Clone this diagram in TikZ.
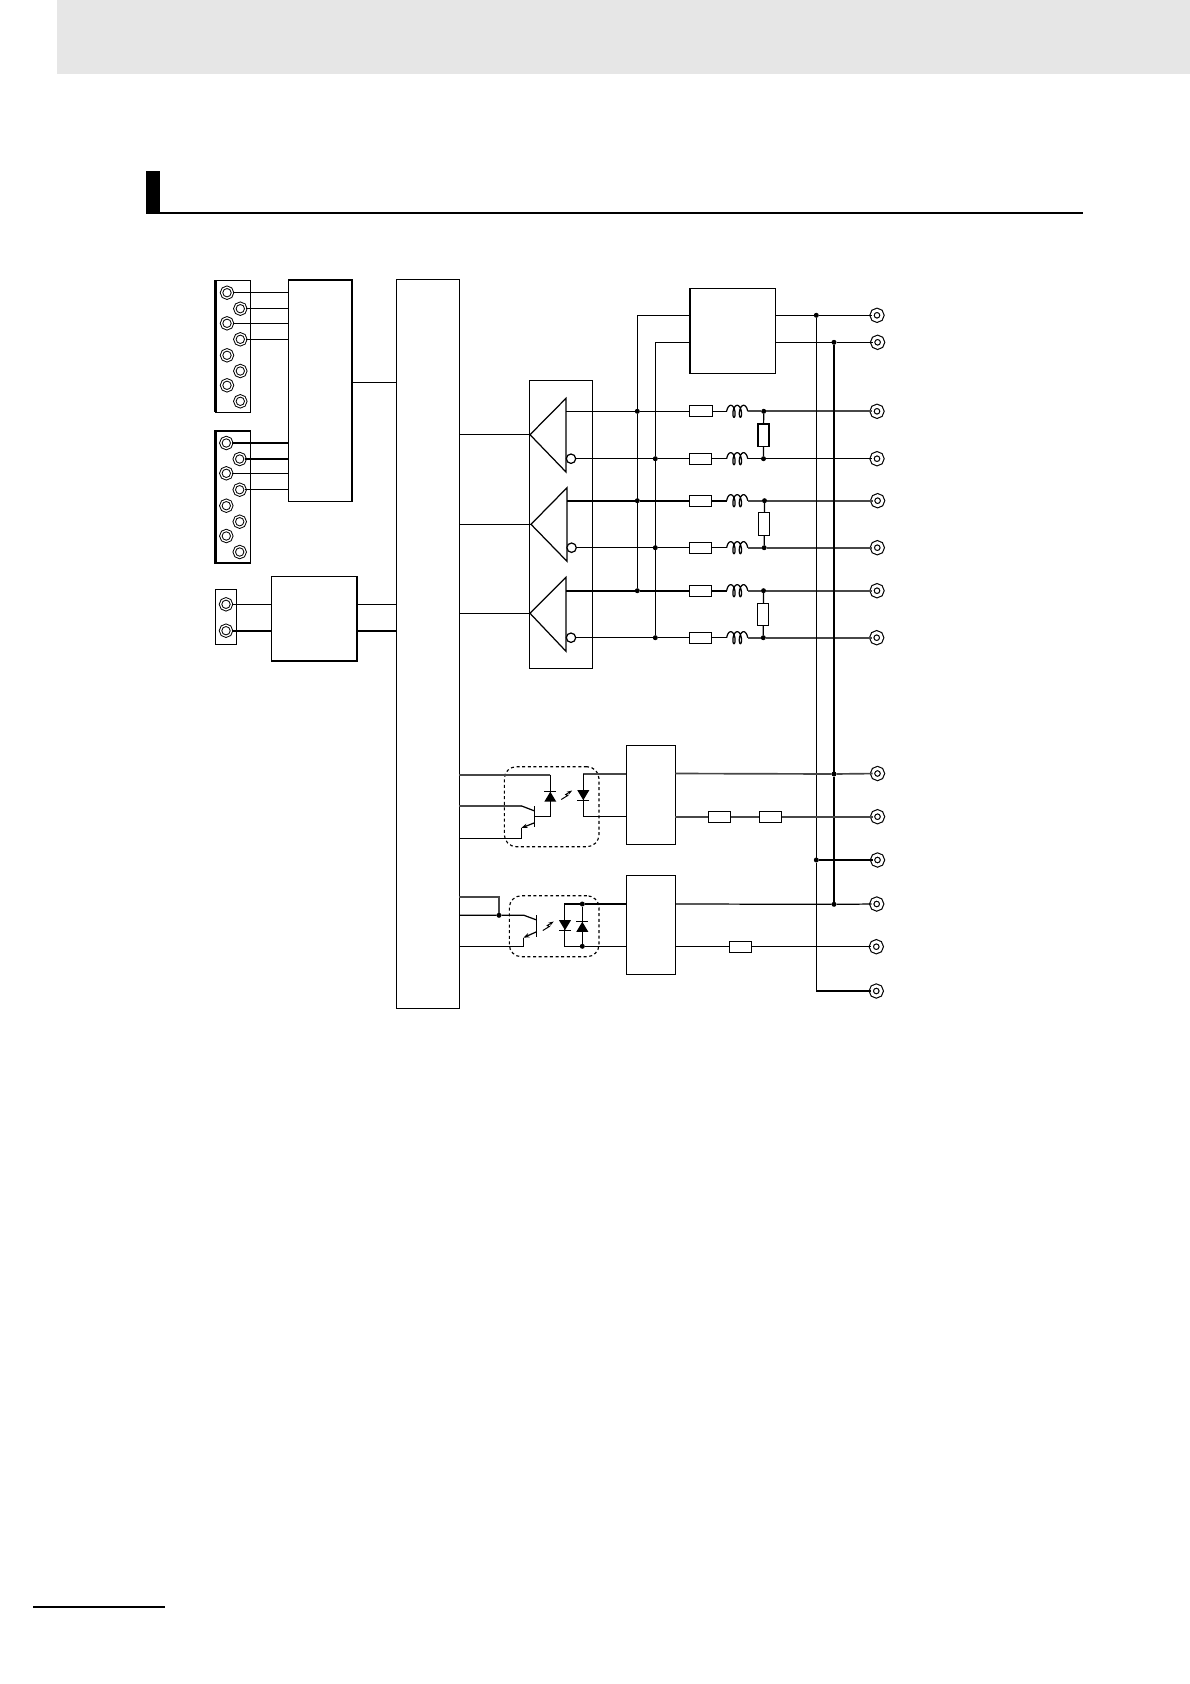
\documentclass[tikz,border=0pt]{standalone}
\usetikzlibrary{arrows.meta}

\definecolor{bandgrey}{HTML}{E6E6E6}

\tikzset{
    wire/.style={line width=0.7pt},
    heavywire/.style={line width=1.15pt},
    greywire/.style={line width=0.95pt,draw=black!72},
    blk/.style={shape=rectangle,draw,line width=0.7pt,fill=white,inner sep=0pt,outer sep=0pt},
    res/.style={blk,minimum width=0.446cm,minimum height=0.22cm},
    vres/.style={blk,minimum width=0.22cm,minimum height=0.446cm},
    coilspot/.style={shape=rectangle,inner sep=0pt,outer sep=0pt,minimum width=0.42cm,minimum height=0pt},
    lterm/.style={shape=circle,draw,line width=0.55pt,double,double distance=0.75pt,inner sep=0pt,outer sep=0pt,minimum size=0.22cm},
    oterm/.style={shape=circle,draw,line width=0.65pt,double,double distance=1.6pt,inner sep=0pt,outer sep=0pt,minimum size=0.2cm,fill=white},
    junc/.style={shape=circle,fill,inner sep=0pt,outer sep=0pt,minimum size=0.1cm},
    bubble/.style={shape=circle,draw,line width=0.7pt,fill=white,inner sep=0pt,outer sep=0pt,minimum size=0.188cm},
    dashbox/.style={shape=rectangle,draw,dashed,dash pattern=on 1.7pt off 1.5pt,line width=0.65pt,rounded corners=0.24cm,inner sep=0pt,outer sep=0pt},
    diode/.pic={
        \fill (-6,5) -- (6,5) -- (0,-5) -- cycle;
        \draw[wire] (-6,-5) -- (6,-5);
    },
    flash/.pic={
        \draw[line width=0.55pt,-{Stealth[length=3pt,width=2pt]}] (-5.5,4.5) -- (1,0.5) -- (-1,-0.5) -- (5.5,-4.5);
    },
    coil/.pic={
        \draw[wire] plot[domain=-90:810,samples=91,smooth] ({1.02*rad(\x-360)+2.5*sin(\x)},{-6*cos(\x)});
    },
}

\begin{document}
\begin{tikzpicture}[x=0.02cm,y=-0.02cm]
\useasboundingbox (0,0) rectangle (1190,1684);

% page furniture
\fill[bandgrey] (57,0) rectangle (1190,74);
\fill[black] (146,171) rectangle (160,214);
\fill[black] (146,211.7) rectangle (1083,214);
\fill[black] (32.7,1605.7) rectangle (165,1607.9);

% blocks
\node (strip1) at (233.1,346.3) [blk, minimum width=0.704cm, minimum height=2.64cm] {};
\node (strip2) at (233.1,497) [blk, minimum width=0.704cm, minimum height=2.64cm] {};
\node (strip3) at (226.1,616.8) [blk, minimum width=0.424cm, minimum height=1.1cm] {};
\node (blkA) at (320.3,390.7) [blk, minimum width=1.28cm, minimum height=4.426cm] {};
\node (blkB) at (314.35,618.65) [blk, minimum width=1.706cm, minimum height=1.694cm] {};
\node (mainblk) at (427.8,643.9) [blk, minimum width=1.26cm, minimum height=14.584cm] {};
\node (drvbox) at (560.8,524.3) [blk, minimum width=1.26cm, minimum height=5.76cm] {};
\node (blkC) at (732.5,330.8) [blk, minimum width=1.712cm, minimum height=1.7cm] {};
\node (blkD) at (650.8,794.8) [blk, minimum width=0.98cm, minimum height=1.98cm] {};
\node (blkE) at (650.8,924.8) [blk, minimum width=0.98cm, minimum height=1.98cm] {};

% heavier edges of the blocks
\draw[heavywire] (blkA.north west) -- (blkA.north east) -- (blkA.south east);
\draw[heavywire] (blkC.north west) -- (blkC.south west);
\draw[heavywire] (strip1.north west) -- (strip1.south west);
\draw[heavywire] (strip2.south east) -- (strip2.south west) -- (strip2.north west) -- (strip2.north east);

% left terminals
\begin{scope}[every node/.style={lterm}]
    \node (ta1) at (227,292.7) {};
    \node (ta2) at (240.3,308.7) {};
    \node (ta3) at (227,323.3) {};
    \node (ta4) at (240.3,339.3) {};
    \node (ta5) at (227,355.3) {};
    \node (ta6) at (240.3,371) {};
    \node (ta7) at (227,385.3) {};
    \node (ta8) at (240.3,401.3) {};

    \node (tb1) at (226.3,443) {};
    \node (tb2) at (239.7,459) {};
    \node (tb3) at (226.3,473.3) {};
    \node (tb4) at (239.7,489.7) {};
    \node (tb5) at (226.3,505.7) {};
    \node (tb6) at (239.7,521.7) {};
    \node (tb7) at (226.3,536) {};
    \node (tb8) at (239.7,552) {};

    \node (tc1) at (226,604.3) {};
    \node (tc2) at (226,630.7) {};
\end{scope}

\begin{scope}[wire]
    \draw (ta1) -- (ta1 -| blkA.west);
    \draw (ta2) -- (ta2 -| blkA.west);
    \draw (ta3) -- (ta3 -| blkA.west);
    \draw (ta4) -- (ta4 -| blkA.west);
    \draw[heavywire] (tb1) -- (tb1 -| blkA.west);
    \draw (tb2) -- (tb2 -| blkA.west);
    \draw (tb3) -- (tb3 -| blkA.west);
    \draw (tb4) -- (tb4 -| blkA.west);
    \draw (tc1) -- (tc1 -| blkB.west);
    \draw[heavywire] (tc2) -- (tc2 -| blkB.west);
    \draw (blkB.east |- tc1) -- (mainblk.west |- tc1);
    \draw[heavywire] (blkB.east |- tc2) -- (mainblk.west |- tc2);
    \draw (blkA.east |- 0,382.3) -- (mainblk.west |- 0,382.3);
\end{scope}

% drivers
\coordinate (amp1) at (530,434.7);
\coordinate (amp2) at (531,524.3);
\coordinate (amp3) at (530,613.3);
\coordinate (amp1p) at (566,411.3);
\coordinate (amp2p) at (567,500.7);
\coordinate (amp3p) at (566,590.7);
\draw[wire] (amp1) -- (566,398.3) -- (566,472) -- cycle;
\draw[wire] (amp2) -- (567,487.7) -- (567,561.3) -- cycle;
\draw[wire] (amp3) -- (566,577.3) -- (566,651.3) -- cycle;
\node (inv1) at (571,458.7) [bubble] {};
\node (inv2) at (571.6,547.7) [bubble] {};
\node (inv3) at (571,637.7) [bubble] {};
\draw[wire] (mainblk.east |- amp1) -- (amp1);
\draw[wire] (mainblk.east |- amp2) -- (amp2);
\draw[wire] (mainblk.east |- amp3) -- (amp3);

% output rows
\node (r1) at (701,411.3) [res] {};
\node (r2) at (700.5,458.7) [res] {};
\node (r3) at (700.5,500.7) [res] {};
\node (r4) at (700.5,547.7) [res] {};
\node (r5) at (700.5,590.7) [res] {};
\node (r6) at (700.5,637.7) [res] {};

\node (l1) at (737.2,411.3) [coilspot] {};
\node (l2) at (737.2,458.7) [coilspot] {};
\node (l3) at (737.2,500.7) [coilspot] {};
\node (l4) at (737.2,547.7) [coilspot] {};
\node (l5) at (737.2,590.7) [coilspot] {};
\node (l6) at (737.2,637.7) [coilspot] {};

\node (rt1) at (763.5,435.2) [vres] {};
\node (rt2) at (764.3,524) [vres] {};
\node (rt3) at (763.3,614.3) [vres] {};

\begin{scope}[every node/.style={junc}]
    \node (ja1) at (637.3,411.3) {};
    \node (jb2) at (655.3,458.7) {};
    \node (ja3) at (637.3,500.7) {};
    \node (jb4) at (655.3,547.7) {};
    \node (ja5) at (637.3,590.7) {};
    \node (jb6) at (655.3,637.7) {};

    \node (jr1) at (763.7,411.3) {};
    \node (jr2) at (763.5,458.7) {};
    \node (jr3) at (764.5,500.7) {};
    \node (jr4) at (764.2,547.7) {};
    \node (jr5) at (763.5,590.7) {};
    \node (jr6) at (763.3,637.7) {};

    \node (jg1) at (816.3,315.3) {};
    \node (jg2) at (834,342.3) {};
    \node (jg3) at (834,774) {};
    \node (jg4) at (816.3,860) {};
    \node (jg5) at (834,904.3) {};
\end{scope}

\begin{scope}[every node/.style={oterm}]
    \node (oa1) at (877,315.3) {};
    \node (oa2) at (877.6,342.3) {};
    \node (o1) at (877,411.3) {};
    \node (o2) at (877,458.7) {};
    \node (o3) at (877.6,500.7) {};
    \node (o4) at (877.3,547.7) {};
    \node (o5) at (877,590.7) {};
    \node (o6) at (876.7,637.7) {};
    \node (o7) at (877.5,773.5) {};
    \node (o8) at (877.5,816.7) {};
    \node (o9) at (877.5,860) {};
    \node (o10) at (876.7,904) {};
    \node (o11) at (876.3,946.7) {};
    \node (o12) at (876.3,991) {};
\end{scope}

% rows from the drivers to the terminals
\draw[wire] (amp1p) -- (ja1) -- (r1);
\draw[wire] (inv1) -- (jb2) -- (r2);
\draw[heavywire] (amp2p) -- (ja3) -- (r3);
\draw[wire] (inv2) -- (jb4) -- (r4);
\draw[heavywire] (amp3p) -- (ja5) -- (r5);
\draw[wire] (inv3) -- (jb6) -- (r6);

\draw[wire] (r1) -- (l1.west);
\draw[wire] (r2) -- (l2.west);
\draw[heavywire] (r3) -- (l3.west);
\draw[wire] (r4) -- (l4.west);
\draw[heavywire] (r5) -- (l5.west);
\draw[wire] (r6) -- (l6.west);

\pic at (l1) {coil};
\pic at (l2) {coil};
\pic at (l3) {coil};
\pic at (l4) {coil};
\pic at (l5) {coil};
\pic at (l6) {coil};

\draw[greywire] (l1.east) -- (jr1) -- (o1);
\draw[wire] (l2.east) -- (jr2) -- (o2);
\draw[greywire] (l3.east) -- (jr3) -- (o3);
\draw[greywire] (l4.east) -- (jr4) -- (o4);
\draw[greywire] (l5.east) -- (jr5) -- (o5);
\draw[greywire] (l6.east) -- (jr6) -- (o6);

\draw[wire] (jr1) -- (rt1) -- (jr2);
\draw[wire] (jr3) -- (rt2) -- (jr4);
\draw[wire] (jr5) -- (rt3) -- (jr6);

% supply block and its rails
\draw[wire] (ja5) -- (ja1);
\draw[wire] (jb6) -- (jb2);
\draw[wire] (ja1) |- (blkC.west |- oa1);
\draw[wire] (jb2) |- (blkC.west |- oa2);
\draw[wire] (blkC.east |- oa1) -- (jg1) -- (oa1);
\draw[wire] (blkC.east |- oa2) -- (jg2) -- (oa2);
\draw[wire] (jg1) -- (jg4);
\draw[wire] (jg2) -- (jg3) -- (jg5);
\draw[wire] (jg4) |- (o12);
\draw[wire] (jg4) -- (o9);

% first coupler
\node (isoD) at (551.65,806.7) [dashbox, minimum width=1.893cm, minimum height=1.6cm] {};
\coordinate (ledD) at (550.3,774.7);
\coordinate (baseD) at (534.7,816.3);
\coordinate (colD) at (534.7,811);
\coordinate (emiD) at (534.7,822.7);
\coordinate (colDin) at (521.7,806);
\coordinate (emiDin) at (521.3,828);
\coordinate (pdD) at (583.3,774);

\draw[greywire] (mainblk.east |- ledD) -- (ledD);
\draw[wire] (ledD) |- (baseD);
\draw[wire] (534.7,806) -- (534.7,826.7);
\draw[greywire] (mainblk.east |- colDin) -- (colDin);
\draw[wire] (colDin) -- (colD);
\draw[wire] (mainblk.east |- 0,838.3) -| (emiDin);
\draw[wire,-{Stealth[length=3.5pt,width=2.5pt]}] (emiD) -- (emiDin);
\pic at (550.3,796.7) {diode};
\pic at (566.7,795) {flash};
\pic[rotate=180] at (583.3,795.2) {diode};
\draw[greywire] (blkD.west |- pdD) -- (pdD);
\draw[wire] (pdD) |- (blkD.west |- 0,816.3);

\node (rd1) at (719.5,816.7) [res] {};
\node (rd2) at (770.5,816.7) [res] {};
\draw[greywire] (blkD.east |- o7) -- (jg3) -- (o7);
\draw[greywire] (blkD.east |- o8) -- (rd1) -- (rd2) -- (o8);

% second coupler
\node (isoE) at (554.15,926.2) [dashbox, minimum width=1.793cm, minimum height=1.22cm] {};
\coordinate (tapE) at (499,896.7);
\node (jtap) at (499,915.3) [junc] {};
\coordinate (colE) at (536.7,920);
\coordinate (emiE) at (536.7,931.7);
\coordinate (colEin) at (524,915.3);
\coordinate (emiEin) at (523.3,937.7);
\coordinate (pdEa) at (564.3,904);
\coordinate (pdEb) at (564.3,946.3);
\node (jpda) at (582.3,904) [junc] {};
\node (jpdb) at (582.3,946.3) [junc] {};

\draw[greywire] (mainblk.east |- tapE) -- (tapE) -- (jtap);
\draw[wire] (mainblk.east |- jtap) -- (jtap) -- (colEin) -- (colE);
\draw[wire] (536.7,915) -- (536.7,936.7);
\draw[wire] (mainblk.east |- pdEb) -| (emiEin);
\draw[wire,-{Stealth[length=3.5pt,width=2.5pt]}] (emiE) -- (emiEin);
\draw[wire] (pdEa) -- (jpda) -- (blkE.west |- jpda);
\draw[wire] (pdEb) -- (jpdb) -- (blkE.west |- jpdb);
\draw[wire] (pdEa) -- (pdEb);
\draw[wire] (jpda) -- (jpdb);
\pic[rotate=180] at (565,925.2) {diode};
\pic at (582.3,926.8) {diode};
\pic at (548.3,926) {flash};

\node (re1) at (740.5,946.7) [res] {};
\draw[wire] (blkE.east |- o10) -- (jg5) -- (o10);
\draw[wire] (blkE.east |- o11) -- (re1) -- (o11);
\end{tikzpicture}
\end{document}
